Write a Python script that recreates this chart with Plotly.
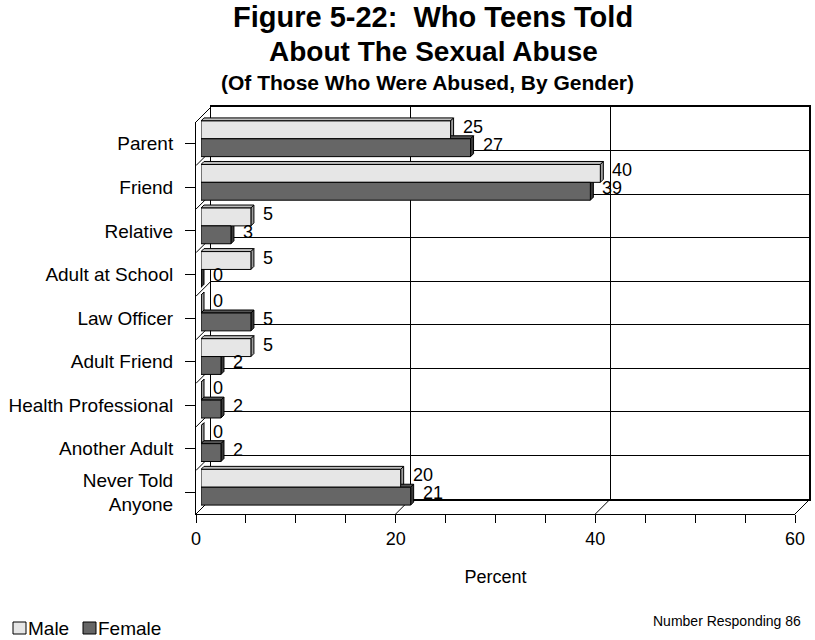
import plotly.graph_objects as go

# ---- data ----
categories = [
    "Parent", "Friend", "Relative", "Adult at School", "Law Officer",
    "Adult Friend", "Health Professional", "Another Adult", "Never Told<br>Anyone",
]
male = [25, 40, 5, 5, 0, 5, 0, 0, 20]
female = [27, 39, 3, 0, 5, 2, 2, 2, 21]
x_tick_labels = [0, 20, 40, 60]
x_minor_step = 5
x_max = 60

# ---- styling / geometry (pixels) ----
W, H = 815, 640
FONT = "Liberation Sans, Arial, Helvetica, sans-serif"
MALE_FACE, MALE_TOP, MALE_SIDE = "#E6E6E6", "#BDBDBD", "#9E9E9E"
FEMALE_FACE, FEMALE_TOP, FEMALE_SIDE = "#666666", "#555555", "#3C3C3C"

FRONT_L, FRONT_T = 196, 122          # front plane top-left corner
PLANE_W, PLANE_H = 599, 392          # size of each depth plane
WALL_DEPTH = 15                      # back wall offset (right and up)
BAR_SHIFT = 5                        # plane in which bar faces sit
BAR_DEPTH = 3                        # extrusion of each bar
BAR_W = 0.41                         # bar thickness in category units

n = len(categories)
idx = list(range(n))


def xdom(shift):
    return [(FRONT_L + shift) / W, (FRONT_L + shift + PLANE_W) / W]


def ydom(shift):
    top = FRONT_T - shift
    return [1 - (top + PLANE_H) / H, 1 - top / H]


def px(xp):
    return xp / W


def py(yp):
    return 1 - yp / H


yrange = [n - 0.5, -0.5]
fig = go.Figure()

# placeholder traces so every subplot renders its axes
fig.add_trace(go.Scatter(x=[None], y=[None], xaxis="x", yaxis="y",
                         showlegend=False, hoverinfo="skip"))

# bars (front faces)
fig.add_trace(go.Bar(
    name="Male", x=male, y=idx, orientation="h", xaxis="x2", yaxis="y2",
    width=BAR_W, offset=-BAR_W,
    marker=dict(color=MALE_FACE, line=dict(color="black", width=1)),
    hoverinfo="x"))
fig.add_trace(go.Bar(
    name="Female", x=female, y=idx, orientation="h", xaxis="x2", yaxis="y2",
    width=BAR_W, offset=0,
    marker=dict(color=FEMALE_FACE, line=dict(color="black", width=1)),
    hoverinfo="x"))

fig.add_trace(go.Scatter(x=[None], y=[None], xaxis="x3", yaxis="y3",
                         showlegend=False, hoverinfo="skip"))

shapes = []
annotations = []

# extruded top / side faces of every bar, plus value labels
dx = BAR_DEPTH * x_max / PLANE_W
dy = BAR_DEPTH * n / PLANE_H
for vals, off, top_c, side_c in ((male, -BAR_W, MALE_TOP, MALE_SIDE),
                                 (female, 0.0, FEMALE_TOP, FEMALE_SIDE)):
    for i, v in enumerate(vals):
        t = i + off
        b = t + BAR_W
        shapes.append(dict(
            type="path", xref="x2", yref="y2", layer="below",
            path=f"M 0,{t} L {v},{t} L {v + dx},{t - dy} L {dx},{t - dy} Z",
            fillcolor=top_c, line=dict(color="black", width=1)))
        shapes.append(dict(
            type="path", xref="x2", yref="y2", layer="below",
            path=f"M {v},{t} L {v + dx},{t - dy} L {v + dx},{b - dy} L {v},{b} Z",
            fillcolor=side_c, line=dict(color="black", width=1)))
        annotations.append(dict(
            xref="x2", yref="y2", x=v, y=t + BAR_W / 2, text=str(v),
            xanchor="left", yanchor="middle", xshift=10, yshift=3,
            showarrow=False, font=dict(size=18, color="black", family=FONT)))

# left wall: diagonals at each category boundary
for k in range(n + 1):
    yf = FRONT_T + PLANE_H * k / n
    shapes.append(dict(type="line", xref="paper", yref="paper", layer="below",
                       x0=px(FRONT_L), y0=py(yf),
                       x1=px(FRONT_L + WALL_DEPTH), y1=py(yf - WALL_DEPTH),
                       line=dict(color="black", width=1)))

# floor: diagonals at each labelled value
for v in x_tick_labels:
    xf = FRONT_L + PLANE_W * v / x_max
    yb = FRONT_T + PLANE_H
    shapes.append(dict(type="line", xref="paper", yref="paper", layer="below",
                       x0=px(xf), y0=py(yb),
                       x1=px(xf + WALL_DEPTH), y1=py(yb - WALL_DEPTH),
                       line=dict(color="black", width=1)))

# heavier right edge of the back wall
shapes.append(dict(type="line", xref="paper", yref="paper", layer="below",
                   x0=px(FRONT_L + WALL_DEPTH + PLANE_W), y0=py(FRONT_T - WALL_DEPTH),
                   x1=px(FRONT_L + WALL_DEPTH + PLANE_W),
                   y1=py(FRONT_T - WALL_DEPTH + PLANE_H),
                   line=dict(color="black", width=2)))

# titles
title_font = dict(family=FONT, color="black")
annotations += [
    dict(xref="paper", yref="paper", x=px(433), y=py(17),
         text="<b>Figure 5-22:\u00a0 Who Teens Told</b>", showarrow=False,
         xanchor="center", yanchor="middle", font=dict(size=29, **title_font)),
    dict(xref="paper", yref="paper", x=px(433), y=py(51),
         text="<b>About The Sexual Abuse</b>", showarrow=False,
         xanchor="center", yanchor="middle", font=dict(size=28, **title_font)),
    dict(xref="paper", yref="paper", x=px(427), y=py(83),
         text="<b>(Of Those Who Were Abused, By Gender)</b>", showarrow=False,
         xanchor="center", yanchor="middle", font=dict(size=21, **title_font)),
    dict(xref="paper", yref="paper", x=px(803), y=py(621),
         text="Number Responding 86", showarrow=False,
         xanchor="right", yanchor="middle", font=dict(size=14, **title_font)),
]

# legend (boxes + labels)
for (x0, x1, color), (tx, label) in zip(
        [(13, 26, MALE_FACE), (83, 96, FEMALE_FACE)],
        [(26, "Male"), (96, "Female")]):
    shapes.append(dict(type="rect", xref="paper", yref="paper",
                       x0=px(x0), x1=px(x1), y0=py(634), y1=py(622),
                       fillcolor=color, line=dict(color="black", width=1)))
    annotations.append(dict(xref="paper", yref="paper", x=px(tx), y=py(628),
                            text=label, showarrow=False, xanchor="left",
                            yanchor="middle", font=dict(size=19, **title_font)))

x_ticks_all = list(range(0, x_max + 1, x_minor_step))

fig.update_layout(
    width=W, height=H, autosize=False,
    margin=dict(l=0, r=0, t=0, b=0),
    paper_bgcolor="white", plot_bgcolor="rgba(0,0,0,0)",
    font=dict(family=FONT, size=18, color="black"),
    showlegend=False, barmode="overlay",
    # back wall
    xaxis=dict(domain=xdom(WALL_DEPTH), anchor="y", range=[0, x_max],
               tickvals=x_tick_labels, showticklabels=False, ticks="",
               showgrid=True, gridcolor="black", gridwidth=1,
               showline=True, mirror=True, linecolor="black", linewidth=2,
               zeroline=False, fixedrange=True),
    yaxis=dict(domain=ydom(WALL_DEPTH), anchor="x", range=yrange,
               tickvals=[k + 0.5 for k in range(n - 1)], showticklabels=False,
               ticks="", showgrid=True, gridcolor="black", gridwidth=1,
               showline=True, mirror=True, linecolor="black", linewidth=1,
               zeroline=False, fixedrange=True),
    # bar plane
    xaxis2=dict(domain=xdom(BAR_SHIFT), anchor="y2", range=[0, x_max],
                visible=False, fixedrange=True),
    yaxis2=dict(domain=ydom(BAR_SHIFT), anchor="x2", range=yrange,
                visible=False, fixedrange=True),
    # front axes
    xaxis3=dict(domain=xdom(0), anchor="y3", range=[0, x_max],
                tickvals=x_ticks_all,
                ticktext=[str(v) if v in x_tick_labels else "" for v in x_ticks_all],
                ticks="outside", ticklen=8, tickcolor="black", tickwidth=1,
                showline=True, linecolor="black", linewidth=1,
                showgrid=False, zeroline=False, automargin=False,
                title=dict(text="Percent", standoff=22, font=dict(size=18)),
                tickfont=dict(size=18), fixedrange=True),
    yaxis3=dict(domain=ydom(0), anchor="x3", range=yrange,
                tickvals=idx, ticktext=categories,
                ticks="outside", ticklen=10, tickcolor="black", tickwidth=1,
                showline=True, linecolor="black", linewidth=1,
                showgrid=False, zeroline=False, automargin=False,
                ticklabelstandoff=8, tickfont=dict(size=19), fixedrange=True),
    shapes=shapes,
    annotations=annotations,
)

fig.write_html("out.html")
